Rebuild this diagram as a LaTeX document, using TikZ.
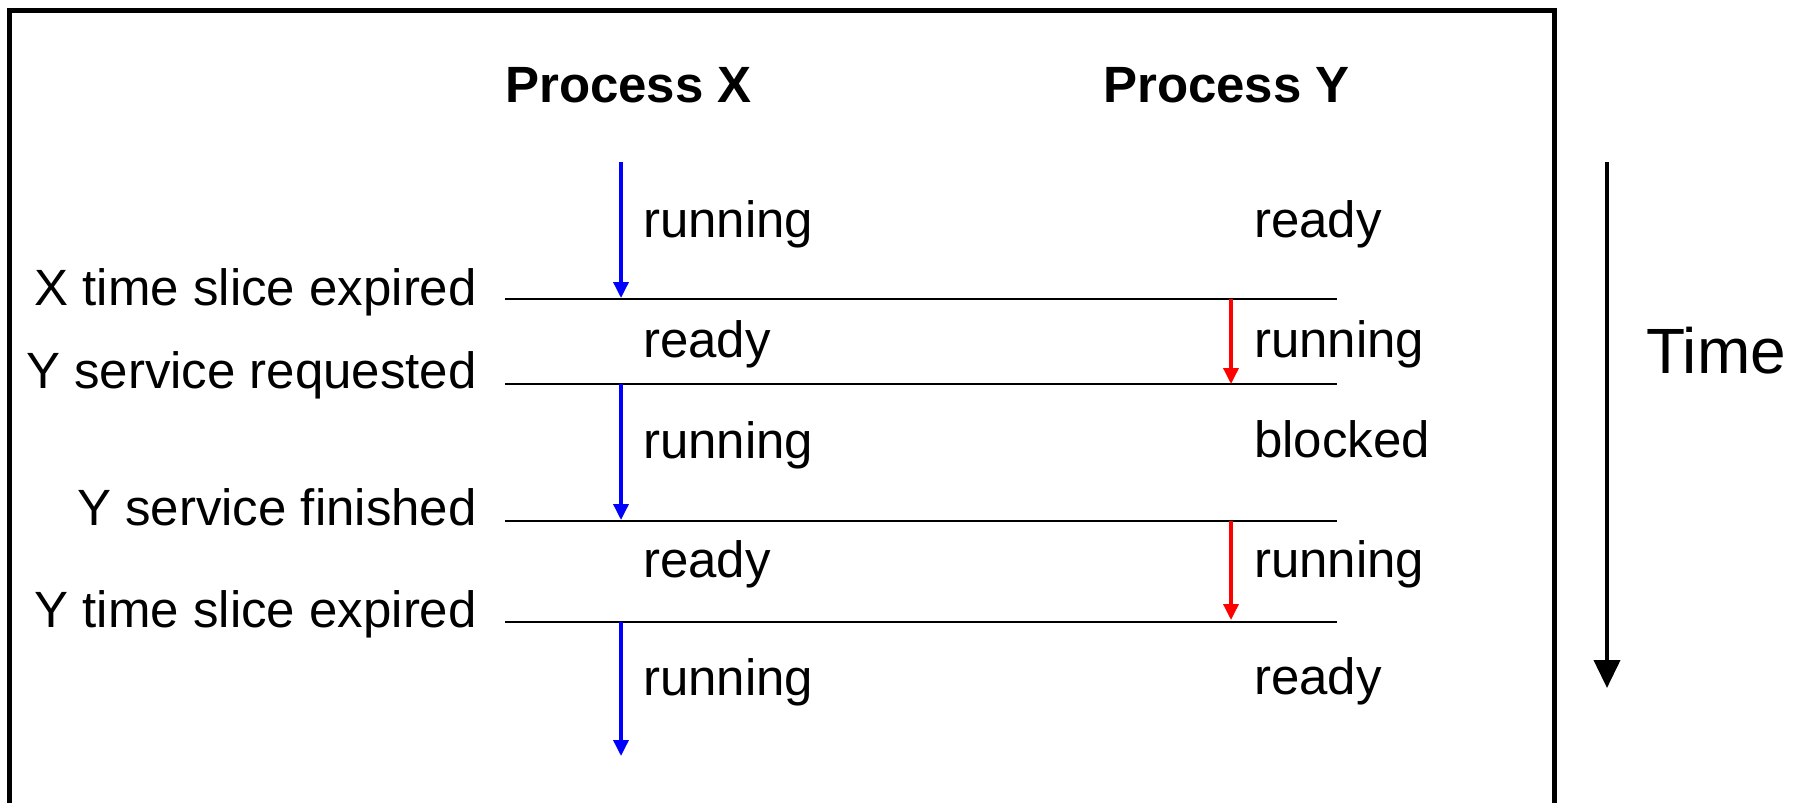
\documentclass[tikz,border=0pt]{standalone}
\usepackage{fontspec}
\setmainfont{Liberation Sans}
\usetikzlibrary{arrows.meta}
\tikzset{
  lbl/.style={inner sep=0pt, font=\fontsize{51}{60}\selectfont},
  ttl/.style={inner sep=0pt, font=\fontsize{51}{60}\selectfont\bfseries},
  evline/.style={line width=2.5pt, black},
  xarrow/.style={line width=3.5pt, blue, -{Triangle[length=16pt,width=15pt]}},
  yarrow/.style={line width=3.5pt, red, -{Triangle[length=16pt,width=15pt]}},
  tarrow/.style={line width=4pt, black, -{Triangle[length=28pt,width=26pt]}},
  frame/.style={line width=5pt, black}
}
\begin{document}
\begin{tikzpicture}[x=1pt,y=-1pt]
\useasboundingbox (0,0) rectangle (1808,803);
% frame (open at bottom)
\coordinate (fbl) at (9,806);
\coordinate (ftl) at (9,10);
\coordinate (ftr) at (1554,10);
\coordinate (fbr) at (1554,806);
\draw[frame] (fbl) -- (ftl) -- (ftr) -- (fbr);

% titles
\node[ttl, anchor=base west] (px) at (505,102) {Process X};
\node[ttl, anchor=base west] (py) at (1103,102) {Process Y};

% event lines
\coordinate (l1w) at (505,299); \coordinate (l1e) at (1337,299);
\coordinate (l2w) at (505,384); \coordinate (l2e) at (1337,384);
\coordinate (l3w) at (505,521); \coordinate (l3e) at (1337,521);
\coordinate (l4w) at (505,622); \coordinate (l4e) at (1337,622);
\draw[evline] (l1w) -- (l1e);
\draw[evline] (l2w) -- (l2e);
\draw[evline] (l3w) -- (l3e);
\draw[evline] (l4w) -- (l4e);

% event labels
\node[lbl, anchor=base east] (e1) at (477,305) {X time slice expired};
\node[lbl, anchor=base east] (e2) at (477,388) {Y service requested};
\node[lbl, anchor=base east] (e3) at (477,525) {Y service finished};
\node[lbl, anchor=base east] (e4) at (477,627) {Y time slice expired};

% state labels process X
\node[lbl, anchor=base west] (x1) at (643,237) {running};
\node[lbl, anchor=base west] (x2) at (643,357) {ready};
\node[lbl, anchor=base west] (x3) at (643,458) {running};
\node[lbl, anchor=base west] (x4) at (643,577) {ready};
\node[lbl, anchor=base west] (x5) at (643,695) {running};

% state labels process Y
\node[lbl, anchor=base west] (y1) at (1254,237) {ready};
\node[lbl, anchor=base west] (y2) at (1254,357) {running};
\node[lbl, anchor=base west] (y3) at (1254,457) {blocked};
\node[lbl, anchor=base west] (y4) at (1254,577) {running};
\node[lbl, anchor=base west] (y5) at (1254,694) {ready};

% blue arrows (process X running)
\coordinate (bx1s) at (621,162); \coordinate (bx1e) at (621,298);
\coordinate (bx2s) at (621,384); \coordinate (bx2e) at (621,520);
\coordinate (bx3s) at (621,622); \coordinate (bx3e) at (621,756);
\draw[xarrow] (bx1s) -- (bx1e);
\draw[xarrow] (bx2s) -- (bx2e);
\draw[xarrow] (bx3s) -- (bx3e);

% red arrows (process Y running)
\coordinate (ry1s) at (1231,299); \coordinate (ry1e) at (1231,384);
\coordinate (ry2s) at (1231,521); \coordinate (ry2e) at (1231,620);
\draw[yarrow] (ry1s) -- (ry1e);
\draw[yarrow] (ry2s) -- (ry2e);

% time axis
\coordinate (ts) at (1607,162); \coordinate (te) at (1607,688);
\draw[tarrow] (ts) -- (te);
\node[inner sep=0pt, anchor=base west, font=\fontsize{64}{72}\selectfont] (time) at (1646,373) {Time};
\end{tikzpicture}
\end{document}
